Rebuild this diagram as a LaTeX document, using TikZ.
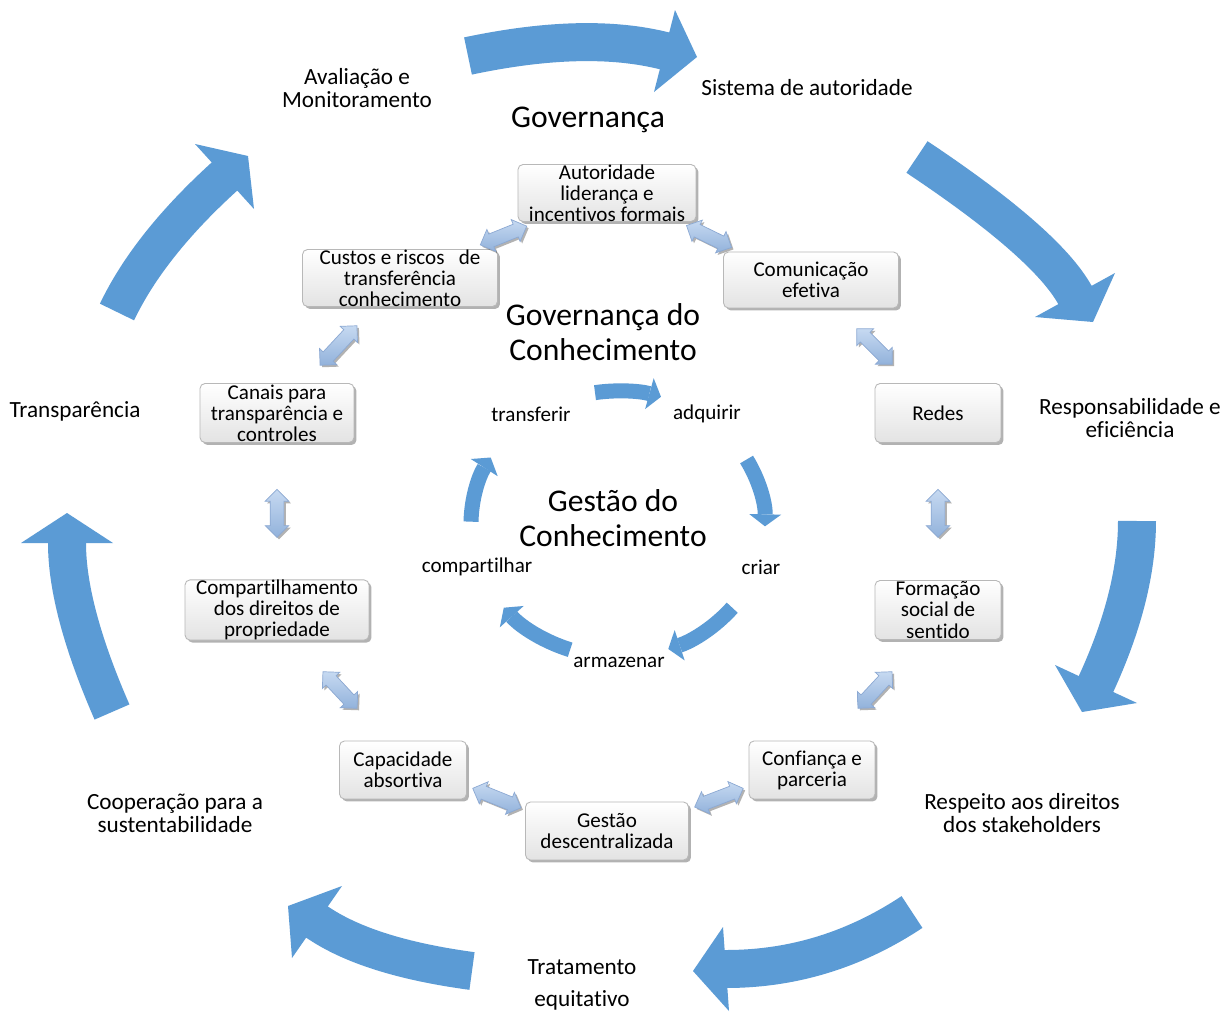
\documentclass[tikz,border=0pt]{standalone}
\usepackage{fontspec}
\setmainfont{Carlito}[Ligatures=NoCommon]
\usetikzlibrary{arrows.meta,calc,shapes.arrows,shadows}
\definecolor{arrblue}{HTML}{5B9BD5}
\definecolor{dblA}{HTML}{C6D9F1}
\definecolor{dblB}{HTML}{92B2DB}
\definecolor{dblE}{HTML}{8CA9D3}
\tikzset{
 bigshaft/.style={line width=0.76cm, draw=arrblue},
 bighead/.style={fill=arrblue},
 smallarr/.style={line width=0.3cm, draw=arrblue, -{Triangle[length=0.24cm,width=0.64cm,line width=0pt]}},
 gbox/.style={draw=black!28, line width=0.5pt, rounded corners=0.1cm, top color=white, bottom color=black!11,
   drop shadow={shadow xshift=0.05cm, shadow yshift=-0.05cm, fill=black, opacity=0.3},
   align=center, inner sep=0pt, font=\fontsize{12}{12}\selectfont},
 dbl/.style={double arrow, draw=dblE, line width=0.4pt, top color=dblA, bottom color=dblB,
   minimum height=1cm, inner xsep=0pt, inner ysep=0.13cm, double arrow head extend=0.1cm,
   drop shadow={shadow xshift=0.04cm, shadow yshift=-0.04cm, fill=black, opacity=0.3}},
 olab/.style={align=center, inner sep=0pt, font=\fontsize{13.2}{13}\selectfont},
 ilab/.style={inner sep=0pt, font=\fontsize{12}{12}\selectfont},
 ttl/.style={align=center, inner sep=0pt, font=\fontsize{18}{19.8}\selectfont},
}
\begin{document}
\begin{tikzpicture}[x=0.02cm, y=-0.02cm]
\fill[white] (0,0) rectangle (1232,1014);
\useasboundingbox (0,0) rectangle (1232,1014);

% ---- outer cycle arrows: tail, control, head base, barbs, tip ----
\coordinate (a1t) at (468,56);   \coordinate (a1c) at (586,31);   \coordinate (a1b) at (665,51);
\coordinate (a1u) at (675,10);   \coordinate (a1v) at (654,92);   \coordinate (a1p) at (697,57);
\coordinate (a2t) at (917,157);  \coordinate (a2c) at (1046,243); \coordinate (a2b) at (1075,295);
\coordinate (a2u) at (1035,317); \coordinate (a2v) at (1115,273); \coordinate (a2p) at (1093,322);
\coordinate (a3t) at (1137,521); \coordinate (a3c) at (1137,595); \coordinate (a3b) at (1096,684);
\coordinate (a3u) at (1055,665); \coordinate (a3v) at (1137,703); \coordinate (a3p) at (1082,712);
\coordinate (a4t) at (912,912);  \coordinate (a4c) at (826,969);  \coordinate (a4b) at (726,969);
\coordinate (a4u) at (723,927);  \coordinate (a4v) at (729,1011); \coordinate (a4p) at (693,971);
\coordinate (a5t) at (472,971);  \coordinate (a5c) at (368,957);  \coordinate (a5b) at (317,922);
\coordinate (a5u) at (342,886);  \coordinate (a5v) at (292,958);  \coordinate (a5p) at (288,906);
\coordinate (a6t) at (112,712);  \coordinate (a6c) at (67,609);   \coordinate (a6b) at (67,543);
\coordinate (a6u) at (21,543);   \coordinate (a6v) at (113,543);  \coordinate (a6p) at (67,513);
\coordinate (a7t) at (117,312);  \coordinate (a7c) at (149,245);  \coordinate (a7b) at (224.5,176.5);
\coordinate (a7u) at (195,144);  \coordinate (a7v) at (254,209);  \coordinate (a7p) at (248,156);
\foreach \i in {1,...,7}{
  \draw[bigshaft] (a\i t) .. controls ($(a\i t)!.667!(a\i c)$) and ($(a\i b)!.667!(a\i c)$) .. (a\i b)
      -- ($(a\i b)!0.25!(a\i p)$);
  \fill[bighead] (a\i u) -- (a\i p) -- (a\i v) -- cycle;
}

% ---- outer labels ----
\node[olab] (l1) at (357,88) {Avaliação e\\Monitoramento};
\node[olab] (l2) at (807,88) {Sistema de autoridade};
\node[olab] (l3) at (1130,418) {Responsabilidade e\\eficiência};
\node[olab] (l4) at (1022,813) {Respeito aos direitos\\dos stakeholders};
\node[olab, font=\fontsize{13.2}{18.1}\selectfont] (l5) at (582,985) {Tratamento\\equitativo};
\node[olab] (l6) at (175,813) {Cooperação para a\\sustentabilidade};
\node[olab] (l7) at (75,411) {Transparência};

% ---- titles ----
\node[ttl] (t1) at (588,120) {Governança};
\node[ttl] (t2) at (603,332) {Governança do\\Conhecimento};
\node[ttl] (t3) at (613,518) {Gestão do\\Conhecimento};

% ---- boxes ----
\node[gbox, minimum width=3.56cm, minimum height=1.14cm] (b1) at (607,193) {Autoridade\\liderança e\\incentivos formais};
\node[gbox, minimum width=3.9cm, minimum height=1.14cm] (b2) at (400,278) {Custos e riscos\ \ \ de\\transferência\\conhecimento};
\node[gbox, minimum width=3.5cm, minimum height=1.12cm] (b3) at (811,280) {Comunicação\\efetiva};
\node[gbox, minimum width=3.08cm, minimum height=1.18cm] (b4) at (277,413) {Canais para\\transparência e\\controles};
\node[gbox, minimum width=2.52cm, minimum height=1.18cm] (b5) at (938,413) {Redes};
\node[gbox, minimum width=3.68cm, minimum height=1.18cm] (b6) at (277,610) {Compartilhamento\\dos direitos de\\propriedade};
\node[gbox, minimum width=2.52cm, minimum height=1.18cm] (b7) at (938,610) {Formação\\social de\\sentido};
\node[gbox, minimum width=2.54cm, minimum height=1.16cm] (b8) at (403,770) {Capacidade\\absortiva};
\node[gbox, minimum width=2.52cm, minimum height=1.16cm] (b9) at (812,770) {Confiança e\\parceria};
\node[gbox, minimum width=3.26cm, minimum height=1.16cm] (b10) at (607,831) {Gestão\\descentralizada};

% ---- double arrows between boxes ----
\node[dbl, rotate=22] (d1) at ($(b1)!0.5!(b2)$) {};
\node[dbl, rotate=-26] (d2) at ($(b1)!0.5!(b3)$) {};
\node[dbl, rotate=47, minimum height=1.08cm] (d3) at ($(b2)!0.5!(b4)$) {};
\node[dbl, rotate=-45] (d4) at ($(b3)!0.5!(b5)$) {};
\node[dbl, rotate=90, minimum height=0.96cm] (d5) at ($(b4)!0.51!(b6)$) {};
\node[dbl, rotate=90, minimum height=0.96cm] (d6) at ($(b5)!0.51!(b7)$) {};
\node[dbl, rotate=-47] (d7) at ($(b6)!0.5!(b8)$) {};
\node[dbl, rotate=47] (d8) at ($(b7)!0.5!(b9)$) {};
\node[dbl, rotate=-22, minimum height=1.04cm] (d9) at ($(b8)!0.46!(b10)$) {};
\node[dbl, rotate=21, minimum height=1.04cm] (d10) at ($(b10)!0.546!(b9)$) {};

% ---- inner knowledge cycle ----
\coordinate (G) at (618,524);
\draw[smallarr] ($(G)+(-99:147 and 133)$) arc[start angle=-99, end angle=-73, x radius=147, y radius=133];
\draw[smallarr] ($(G)+(-29:147 and 133)$) arc[start angle=-29, end angle=1, x radius=147, y radius=133];
\draw[smallarr] ($(G)+(39:147 and 133)$) arc[start angle=39, end angle=70, x radius=147, y radius=133];
\draw[smallarr] ($(G)+(109:147 and 133)$) arc[start angle=109, end angle=141, x radius=147, y radius=133];
\draw[smallarr] ($(G)+(181:147 and 133)$) arc[start angle=181, end angle=210, x radius=147, y radius=133];

\node[ilab] (k1) at (531,414) {transferir};
\node[ilab] (k2) at (707,414) {adquirir};
\node[ilab] (k3) at (761,567) {criar};
\node[ilab] (k4) at (619,662) {armazenar};
\node[ilab] (k5) at (477,567) {compartilhar};
\end{tikzpicture}
\end{document}
